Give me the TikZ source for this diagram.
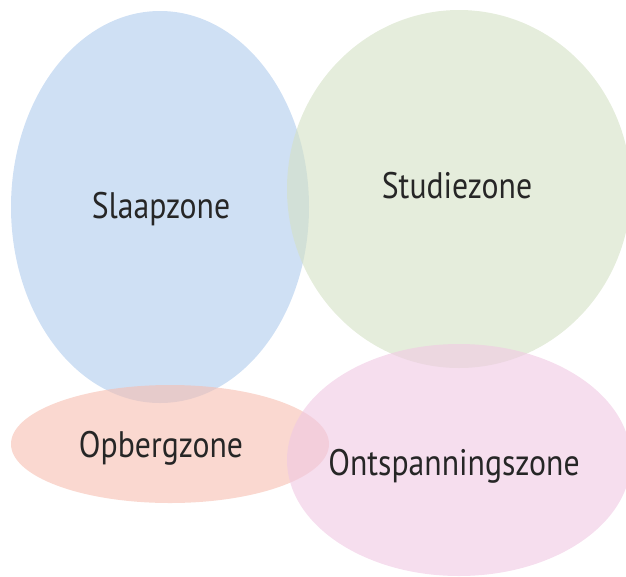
\documentclass[tikz,border=0pt]{standalone}
\usepackage{fontspec}
\setmainfont{PT Sans}[FakeStretch=0.86]
\usepackage{tikz}

\definecolor{slaapblue}{RGB}{175,203,237}
\definecolor{studiegreen}{RGB}{212,225,196}
\definecolor{ontspanpink}{RGB}{240,200,227}
\definecolor{opbergsalmon}{RGB}{246,190,176}

\begin{document}
\begin{tikzpicture}[x=0.02cm,y=-0.02cm,
  zone/.style={fill opacity=0.6},
  zonetext/.style={font=\fontsize{21}{25}\selectfont,text=black!85}]

  \useasboundingbox (0,0) rectangle (626,576);

  \fill[zone, slaapblue] (160,207) ellipse [x radius=149, y radius=196];
  \fill[zone, studiegreen] (459,189) ellipse [x radius=172, y radius=179];
  \fill[zone, opbergsalmon] (170,444) ellipse [x radius=159, y radius=59];
  \fill[zone, ontspanpink] (459,460) ellipse [x radius=172, y radius=116];

  \node[zonetext] (slaap) at (161,209) {Slaapzone};
  \node[zonetext] (studie) at (457,186) {Studiezone};
  \node[zonetext] (opberg) at (161,448) {Opbergzone};
  \node[zonetext] (ontspan) at (454,466) {Ontspanningszone};

\end{tikzpicture}
\end{document}
